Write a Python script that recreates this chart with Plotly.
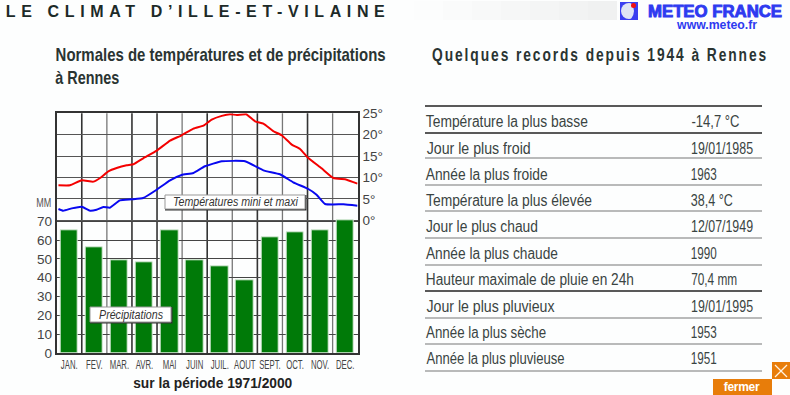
import json
import plotly.graph_objects as go

W, H = 790, 395
months = ["JAN.", "FEV.", "MAR.", "AVR.", "MAI", "JUIN", "JUIL.", "AOUT", "SEPT.", "OCT.", "NOV.", "DEC."]
month_pos = [0.5, 1.5, 2.5, 3.5, 4.5, 5.5, 6.5, 7.5, 8.5, 9.5, 10.5, 11.5]
precip = [65.4, 56.2, 49.4, 48, 65.4, 49, 46, 38.8, 61.5, 64.3, 65.4, 70.6]
tmax_x = [0.07, 0.53, 1.0, 1.46, 1.73, 2.06, 2.39, 2.79, 3.06, 3.45, 3.99, 4.52, 4.98, 5.45, 5.85, 6.18,
          6.58, 6.91, 7.18, 7.55, 7.91, 8.24, 8.64, 8.97, 9.37, 9.70, 10.03, 10.56, 11.03, 11.56, 11.99]
tmax = [8.19, 8.19, 9.36, 9.05, 9.90, 11.46, 12.24, 12.86, 13.10, 14.50, 16.29, 18.62, 19.87, 21.43, 22.13, 23.53,
        24.39, 24.78, 24.62, 24.78, 23.14, 22.60, 20.81, 19.87, 17.69, 16.68, 14.57, 12.16, 9.90, 9.51, 8.58]
tmin_x = [0.07, 0.26, 0.60, 1.0, 1.33, 1.59, 1.86, 2.12, 2.52, 2.99, 3.45, 3.99, 4.52, 4.98, 5.45, 5.91,
          6.58, 7.51, 8.24, 8.90, 9.43, 10.03, 10.36, 10.70, 11.43, 11.99]
tmin = [2.66, 2.27, 2.81, 3.20, 2.27, 2.50, 3.13, 2.97, 4.68, 4.92, 5.23, 7.18, 9.36, 10.60, 11.07, 12.63,
        13.80, 13.80, 11.69, 10.76, 8.89, 7.33, 6.01, 3.83, 3.75, 3.44]
mm_ticks = [0, 10, 20, 30, 40, 50, 60, 70]
deg_ticks = [0, 5, 10, 15, 20, 25]
deg_labels = ["0°", "5°", "10°", "15°", "20°", "25°"]
dark_vlines = [1, 3, 4, 6, 8, 10]
grey_vlines = [2, 5, 7, 9, 11]

rec_labels = ["Température la plus basse", "Jour le plus froid", "Année la plus froide", "Température la plus élevée",
              "Jour le plus chaud", "Année la plus chaude", "Hauteur maximale de pluie en 24h", "Jour le plus pluvieux",
              "Année la plus sèche", "Année la plus pluvieuse"]
rec_label_w = [162, 104, 122, 166, 112, 132, 208, 128, 120, 138]
rec_values = ["-14,7 °C", "19/01/1985", "1963", "38,4 °C", "12/07/1949", "1990", "70,4 mm", "19/01/1995", "1953", "1951"]
rec_value_w = [48, 62, 26, 42, 62, 26, 46, 62, 26, 26]
rec_y = [121, 148, 174, 200, 227, 253, 279, 306, 332, 358]
rule_y = [106, 133, 158, 185, 211, 238, 265, 291, 318, 344, 371]
rule_dark = [106, 133, 291]
band_steps = ["#fdfefe", "#fcfdfd", "#fafbfb", "#f8f9f9", "#f6f7f7", "#f4f5f5", "#f2f3f3", "#f0f1f1"]

def px(x): return x / W
def py(y): return 1 - y / H

SANS = "Liberation Sans, Arial, sans-serif"
X0, X1, Y0, Y1 = 56.7, 357.7, 113.3, 353
mm_per_px = 10 / 18.83
deg_per_px = 5 / 21.42
mm_top = (Y1 - Y0) * mm_per_px
deg_bot = 25 - (Y1 - Y0) * deg_per_px

fig = go.Figure()
fig.add_bar(x=month_pos, y=precip, width=0.69, marker=dict(color="#007a08", line=dict(color="#d8ead8", width=1)),
            yaxis="y", xaxis="x", showlegend=False)
fig.add_scatter(x=tmax_x, y=tmax, mode="lines", line=dict(color="#f40000", width=2, shape="spline", smoothing=0.4),
                yaxis="y2", showlegend=False)
fig.add_scatter(x=tmin_x, y=tmin, mode="lines", line=dict(color="#0808f0", width=2, shape="spline", smoothing=0.4),
                yaxis="y2", showlegend=False)

shapes = []
# faint header band, fading from left to right
for i, c in enumerate(band_steps):
    bx0 = 385 + i * 29
    shapes.append(dict(type="rect", layer="below", xref="paper", yref="paper", x0=px(bx0), x1=px(bx0 + 29),
                       y0=py(1), y1=py(20), line_width=0, fillcolor=c))
for v in dark_vlines:
    shapes.append(dict(type="line", layer="below", xref="x", yref="paper", x0=v, x1=v, y0=py(Y1), y1=py(Y0),
                       line=dict(color="#333", width=1.6)))
for v in grey_vlines:
    shapes.append(dict(type="line", layer="below", xref="x", yref="paper", x0=v, x1=v, y0=py(Y1), y1=py(Y0),
                       line=dict(color="#777", width=1.3)))
for r in rule_y:
    dark = r in rule_dark
    shapes.append(dict(type="line", xref="paper", yref="paper", x0=px(425), x1=px(762), y0=py(r), y1=py(r),
                       line=dict(color="#222" if dark else "#777", width=1.6 if dark else 1.2)))

def box(x0, y0, x1, y1):
    shapes.append(dict(type="rect", xref="paper", yref="paper", x0=px(x0), x1=px(x1 + 1.5), y0=py(y0), y1=py(y1 + 1.5),
                       line_width=0, fillcolor="#333"))
    shapes.append(dict(type="rect", xref="paper", yref="paper", x0=px(x0), x1=px(x1), y0=py(y0), y1=py(y1),
                       line=dict(color="#999", width=1), fillcolor="#ffffff"))
box(165, 195, 305, 209)
box(90, 307, 171, 322)

# logo
shapes.append(dict(type="rect", xref="paper", yref="paper", x0=px(620), x1=px(638), y0=py(2), y1=py(20),
                   line_width=0, fillcolor="#3a3ef0"))
shapes.append(dict(type="circle", xref="paper", yref="paper", x0=px(621), x1=px(637), y0=py(3), y1=py(19),
                   line_width=0, fillcolor="#dfe4f4"))
shapes.append(dict(type="path", xref="paper", yref="paper",
                   path=f"M {px(631)} {py(3)} Q {px(637)} {py(11)} {px(631)} {py(19)} L {px(637)} {py(19)} L {px(637)} {py(3)} Z",
                   line_width=0, fillcolor="#3a3ef0"))
shapes.append(dict(type="circle", xref="paper", yref="paper", x0=px(631), x1=px(636), y0=py(3), y1=py(8),
                   line_width=0, fillcolor="#f01010"))
# fermer
shapes.append(dict(type="rect", xref="paper", yref="paper", x0=px(713), x1=px(772), y0=py(379), y1=py(395),
                   line_width=0, fillcolor="#e87d0a"))
shapes.append(dict(type="rect", xref="paper", yref="paper", x0=px(772), x1=px(790), y0=py(362), y1=py(379),
                   line_width=0, fillcolor="#e87d0a"))
shapes.append(dict(type="line", xref="paper", yref="paper", x0=px(775), x1=px(787), y0=py(365), y1=py(377),
                   line=dict(color="#fff2e0", width=1.2)))
shapes.append(dict(type="line", xref="paper", yref="paper", x0=px(775), x1=px(787), y0=py(377), y1=py(365),
                   line=dict(color="#fff2e0", width=1.2)))

ann = []
fits = {}
def txt(s, x, y, size, width, color="#333", bold=False, italic=False, adjust="spacingAndGlyphs"):
    fits[s] = [width, adjust]
    if bold: s = f"<b>{s}</b>"
    if italic: s = f"<i>{s}</i>"
    ann.append(dict(text=s, xref="paper", yref="paper", x=px(x + width / 2), y=py(y), xanchor="center", yanchor="middle",
                    showarrow=False, font=dict(size=size, color=color, family=SANS), borderpad=0, borderwidth=0))

txt("LE CLIMAT D’ILLE-ET-VILAINE", 6, 11.5, 16, 379, "#1c2a28", bold=True, adjust="spacing")
txt("Normales de températures et de précipitations", 55, 54, 19, 330, "#2a3432", bold=True)
txt("à Rennes", 55, 78, 19, 64, "#2a3432", bold=True)
txt("Quelques records depuis 1944 à Rennes", 432, 55, 18, 336, "#2a3432", bold=True)
txt("METEO FRANCE", 648, 11, 16, 134, "#2e3af0", bold=True)
txt("www.meteo.fr", 677, 25, 12, 80, "#2e3af0", bold=True)
txt("MM", 36, 203, 13, 15, "#555")
txt("Températures mini et maxi", 173, 202, 12, 125, "#333", italic=True)
txt("Précipitations", 99, 315, 12, 64, "#333", italic=True)
txt("sur la période 1971/2000", 133, 382, 15, 159, "#222", bold=True)
txt("fermer", 724, 387, 12, 36, "#ffffff", bold=True, adjust="spacing")
for lab, lw, val, vw, y in zip(rec_labels, rec_label_w, rec_values, rec_value_w, rec_y):
    txt(lab, 426, y, 16, lw, "#3a4442")
    txt(val, 691, y, 16, vw, "#3a4442")

fig.update_layout(
    width=W, height=H, margin=dict(l=0, r=0, t=0, b=0, autoexpand=False), autosize=False,
    paper_bgcolor="#fdfefe", plot_bgcolor="#fdfefe", bargap=0, shapes=shapes, annotations=ann,
    xaxis=dict(domain=[px(X0), px(X1)], range=[0, 12], tickvals=month_pos, ticktext=months, showgrid=False,
               zeroline=False, ticks="", tickfont=dict(size=12.5, color="#444", family=SANS), ticklabelstandoff=-1,
               showline=False, tickangle=0, fixedrange=True),
    yaxis=dict(domain=[py(Y1), py(Y0)], range=[0, mm_top], tickvals=mm_ticks, showgrid=True, gridcolor="#444", gridwidth=1.2,
               zeroline=False, ticks="", tickfont=dict(size=13.5, color="#444", family=SANS), showline=False),
    yaxis2=dict(overlaying="y", side="right", range=[deg_bot, 25], tickvals=deg_ticks, ticktext=deg_labels, showgrid=True,
                gridcolor="#555", gridwidth=1.2, zeroline=False, ticks="", tickfont=dict(size=13.5, color="#444", family=SANS),
                showline=False, anchor="x"),
)
fig.update_xaxes(mirror=True, showline=True, linecolor="#333", linewidth=2)
fig.update_yaxes(showline=True, linecolor="#333", linewidth=2)

post = """
document.documentElement.style.overflow='hidden';
document.body.style.margin='0';
document.body.style.overflow='hidden';
var fits = __FITS__;
document.querySelectorAll('.annotation-text').forEach(function(t){
  var f = fits[t.textContent];
  if(!f) return;
  if(t.textContent.indexOf('Quelques')===0) t.style.letterSpacing='2.5px';
  if(t.textContent==='METEO FRANCE'){ t.style.stroke='#2e3af0'; t.style.strokeWidth='0.9px'; }
  t.setAttribute('textLength', f[0]);
  t.setAttribute('lengthAdjust', f[1]);
});
document.querySelectorAll('.xtick text').forEach(function(t){
  t.setAttribute('textLength', t.getComputedTextLength()*0.62);
  t.setAttribute('lengthAdjust', 'spacingAndGlyphs');
});
""".replace("__FITS__", json.dumps(fits, ensure_ascii=False))
fig.write_html("out.html", post_script=post, config=dict(displayModeBar=False))
